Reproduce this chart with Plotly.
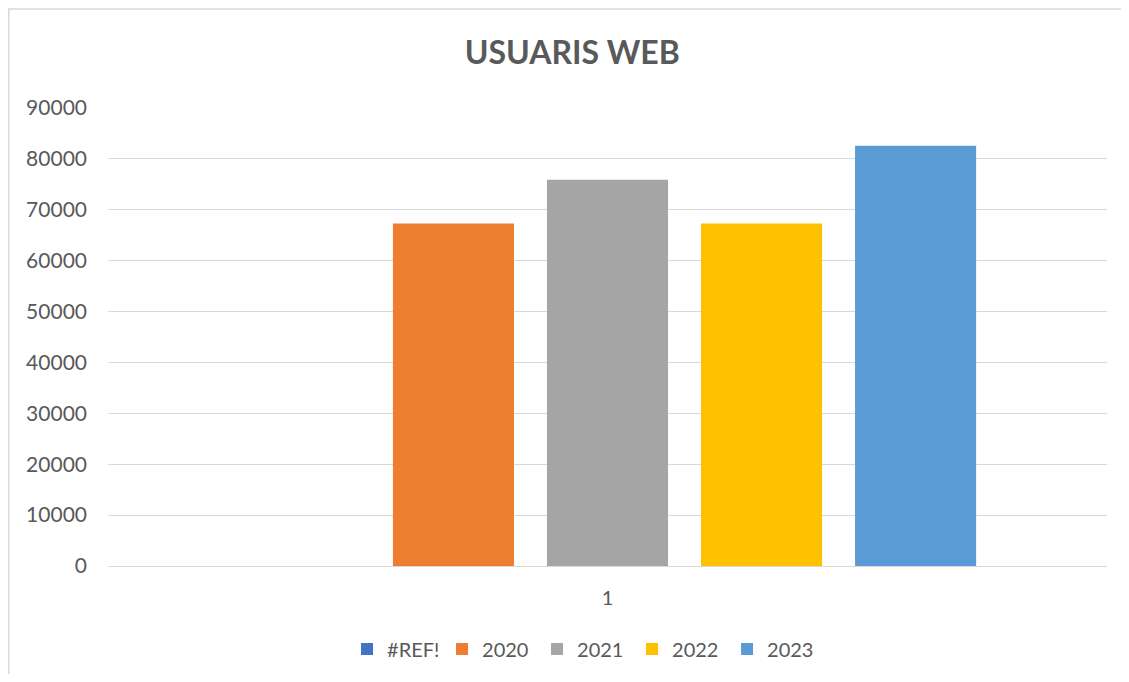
import plotly.graph_objs as go

categories = ['1']
series_names = ['#REF!', '2020', '2021', '2022', '2023']
series_values = [0, 67300, 75900, 67300, 82600]
series_colors = ['#4472C4', '#ED7D31', '#A5A5A5', '#FFC000', '#5B9BD5']
y_ticks = [0, 10000, 20000, 30000, 40000, 50000, 60000, 70000, 80000, 90000]

grey_text = '#595959'
grid = '#D9D9D9'

data = [go.Bar(x=categories, y=[v], name=n, marker=dict(color=c, line=dict(width=0)))
        for n, v, c in zip(series_names, series_values, series_colors)]

fig = go.Figure(data=data)

# page body keeps an 8px margin, so the figure is a bit smaller than the window
fig.update_layout(
    width=1113, height=666,
    title=dict(text='<b>USUARIS WEB</b>', x=0.507, xanchor='center', y=0.932, yanchor='middle',
               font=dict(family='Lato', size=32, color=grey_text)),
    font=dict(family='Lato', size=20, color=grey_text),
    paper_bgcolor='white',
    plot_bgcolor='white',
    barmode='group',
    bargap=0.229,
    bargroupgap=0.214,
    margin=dict(l=100, r=14, t=100, b=108),
    showlegend=True,
    legend=dict(orientation='h', x=0.518, xref='container', xanchor='center',
                y=0.0375, yref='container', yanchor='middle',
                font=dict(size=20, color=grey_text), itemwidth=30, traceorder='normal',
                entrywidth=50),
    xaxis=dict(showgrid=False, showline=True, linecolor=grid, linewidth=1,
               ticks='', tickfont=dict(size=20, color=grey_text), ticklabelstandoff=14),
    yaxis=dict(range=[0, 90000], tickvals=y_ticks, ticktext=[str(t) for t in y_ticks],
               showgrid=True, gridcolor=grid, gridwidth=1, zeroline=True, zerolinecolor=grid,
               zerolinewidth=1, showline=False, ticks='', ticklabelstandoff=20,
               tickfont=dict(size=21, color=grey_text)),
    shapes=[dict(type='rect', xref='paper', yref='paper',
                 x0=-0.0993, x1=1.05, y0=-0.3, y1=1.216,
                 line=dict(color=grid, width=1.5), fillcolor='rgba(0,0,0,0)', layer='below')],
)

fig.write_html("out.html")
